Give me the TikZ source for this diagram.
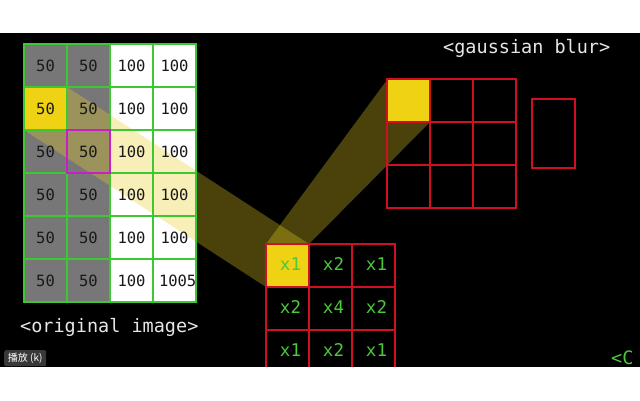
\documentclass[tikz,border=0pt]{standalone}
\usepackage{fontspec}
\setmonofont{DejaVu Sans Mono}
\newfontfamily\cjkfont{Noto Sans CJK SC}
\definecolor{cellgray}{HTML}{777777}
\definecolor{gridgreen}{HTML}{3CC832}
\definecolor{hilite}{HTML}{F0D214}
\definecolor{kred}{HTML}{D01020}
\definecolor{magbox}{HTML}{C81EC8}
\definecolor{labgreen}{HTML}{4CC83C}
\definecolor{beamcol}{HTML}{E8D020}
\definecolor{captiongray}{HTML}{E6E6E6}
\tikzset{
  pixcell/.style={minimum width=43pt,minimum height=43pt,inner sep=0pt,outer sep=0pt,anchor=north west},
  imgcell/.style={pixcell,draw=gridgreen,line width=1.8pt,text=black!90,font=\ttfamily\fontsize{15.5}{15.5}\selectfont},
  kcell/.style={pixcell,draw=kred,line width=2.2pt,text=labgreen,font=\ttfamily\fontsize{17.5}{17.5}\selectfont},
  beam/.style={fill=beamcol,fill opacity=0.32},
  caption/.style={text=captiongray,font=\ttfamily\fontsize{18.5}{18.5}\selectfont,inner sep=0pt}
}
\begin{document}
\begin{tikzpicture}[x=1pt,y=-1pt]
\useasboundingbox (0,0) rectangle (640,400);
\clip (0,0) rectangle (640,400);
% background
\fill[black] (0,33) rectangle (640,367);
% original image fills
\foreach \r in {0,...,5}{
  \foreach \c in {0,1}{\fill[cellgray] ({24+43*\c},{44+43*\r}) rectangle ++(43,43);}
  \foreach \c in {2,3}{\fill[white] ({24+43*\c},{44+43*\r}) rectangle ++(43,43);}
}
% beams
\fill[beam] (24,87) -- (67,87) -- (309,244) -- (309,287) -- (266,287) -- (24,130) -- cycle;
\fill[beam] (266,244) -- (387,80) -- (430,80) -- (430,122) -- (309,244) -- cycle;
% highlighted cells
\fill[hilite] (24,87) rectangle ++(43,43);
\fill[hilite] (266,244) rectangle ++(43,43);
\fill[hilite] (387,79) rectangle ++(43,43);
% original image grid with values
\foreach \r in {0,...,4}{
  \node[imgcell] (o-\r-0) at (24,{44+43*\r}) {50};
  \node[imgcell] (o-\r-1) at (67,{44+43*\r}) {50};
  \node[imgcell] (o-\r-2) at (110,{44+43*\r}) {100};
  \node[imgcell] (o-\r-3) at (153,{44+43*\r}) {100};
}
\node[imgcell] (o-5-0) at (24,259) {50};
\node[imgcell] (o-5-1) at (67,259) {50};
\node[imgcell] (o-5-2) at (110,259) {100};
\begin{scope}
  \clip (153,259) rectangle (196,302);
  \node[imgcell,draw=none,text width=50pt,align=left,inner xsep=0pt] (o-5-3) at (159,259) {1005};
\end{scope}
\draw[gridgreen,line width=1.8pt] (153,259) rectangle (196,302);
\draw[magbox,line width=1.8pt] (67,130) rectangle (110,173);
% kernel
\foreach \r/\a/\b/\cc in {0/x1/x2/x1,1/x2/x4/x2,2/x1/x2/x1}{
  \node[kcell] (k-\r-0) at (266,{244+43*\r}) {\hspace{6pt}\raisebox{3pt}{\a}};
  \node[kcell] (k-\r-1) at (309,{244+43*\r}) {\hspace{6pt}\raisebox{3pt}{\b}};
  \node[kcell] (k-\r-2) at (352,{244+43*\r}) {\hspace{6pt}\raisebox{3pt}{\cc}};
}
% output grid
\foreach \r in {0,1,2}{
  \foreach \c in {0,1,2}{
    \node[kcell] (g-\r-\c) at ({387+43*\c},{79+43*\r}) {};
  }
}
\node[pixcell,draw=kred,line width=2.2pt,minimum width=43pt,minimum height=69pt] (res) at (532,99) {};
% captions
\node[caption,anchor=west] (cap-blur) at (443,48) {<gaussian blur>};
\node[caption,anchor=west] (cap-orig) at (20,327) {<original image>};
\node[caption,anchor=west,text=labgreen] (cap-c) at (611,358) {<C};
% white bands
\fill[white] (0,0) rectangle (640,33);
\fill[white] (0,367) rectangle (640,400);
% tooltip
\node[fill=black!78,rounded corners=2pt,text=white,font=\cjkfont\fontsize{10}{10}\selectfont,minimum width=42pt,minimum height=16pt,inner sep=1pt,anchor=north west] (tip) at (4,350) {播放 (k)};
\end{tikzpicture}
\end{document}
